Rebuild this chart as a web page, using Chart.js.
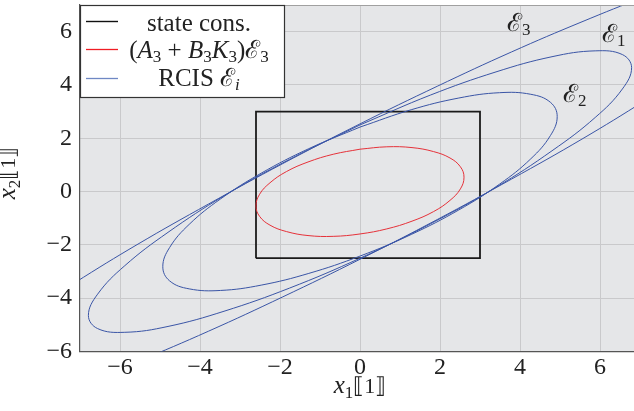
<!DOCTYPE html>
<html>
<head>
<meta charset="utf-8">
<script src="https://cdn.jsdelivr.net/npm/chart.js@4.4.0/dist/chart.umd.min.js"></script>
<style>
  html, body { margin: 0; padding: 0; background: #fff; }
  #wrap { width: 634px; height: 411px; }
</style>
</head>
<body>
<div id="wrap"><canvas id="rcisChart" width="634" height="411"></canvas></div>
<script>
// axis ticks
const xTicks = [-6, -4, -2, 0, 2, 4, 6];
const yTicks = [-6, -4, -2, 0, 2, 4, 6];

// state constraint box
const boxX = [-2.6, -2.6, 3, 3, -2.6];
const boxY = [-2.5, 3, 3, -2.5, -2.5];

// (A3 + B3K3) E3
const redX = [0, -0.67, -1.3, -1.84, -2.25, -2.51, -2.6, -2.51, -2.25, -1.84, -1.3, -0.67, 0, 0.67, 1.3, 1.84, 2.25, 2.51, 2.6, 2.51, 2.25, 1.84, 1.3, 0.67, 0];
const redY = [1.59, 1.4, 1.11, 0.75, 0.33, -0.1, -0.54, -0.93, -1.26, -1.5, -1.65, -1.68, -1.59, -1.4, -1.11, -0.75, -0.33, 0.1, 0.54, 0.93, 1.26, 1.5, 1.65, 1.68, 1.59];

// RCIS E1
const e1X = [0, -1.76, -3.4, -4.8, -5.88, -6.56, -6.79, -6.56, -5.88, -4.8, -3.4, -1.76, 0, 1.76, 3.4, 4.8, 5.88, 6.56, 6.79, 6.56, 5.88, 4.8, 3.4, 1.76, 0];
const e1Y = [2.5, 1.21, -0.16, -1.53, -2.78, -3.85, -4.65, -5.14, -5.28, -5.06, -4.49, -3.62, -2.5, -1.21, 0.16, 1.53, 2.78, 3.85, 4.65, 5.14, 5.28, 5.06, 4.49, 3.62, 2.5];

// RCIS E2
const e2X = [0, -1.28, -2.47, -3.49, -4.27, -4.76, -4.93, -4.76, -4.27, -3.49, -2.47, -1.28, 0, 1.28, 2.47, 3.49, 4.27, 4.76, 4.93, 4.76, 4.27, 3.49, 2.47, 1.28, 0];
const e2Y = [2.42, 1.61, 0.69, -0.28, -1.23, -2.1, -2.82, -3.35, -3.65, -3.71, -3.51, -3.07, -2.42, -1.61, -0.69, 0.28, 1.23, 2.1, 2.82, 3.35, 3.65, 3.71, 3.51, 3.07, 2.42];

// RCIS E3 (only its two long sides are inside the window)
const e3UpperX = [8.5, 7.13, 5.55, 3.79, 1.93, 0, -1.93, -3.79, -5.55, -7.13, -8.5];
const e3UpperY = [8.02, 7.31, 6.37, 5.24, 3.95, 2.54, 1.05, -0.47, -1.97, -3.42, -4.76];
const e3LowerX = [-8.5, -7.13, -5.55, -3.79, -1.93, 0, 1.93, 3.79, 5.55, 7.13, 8.5];
const e3LowerY = [-8.02, -7.31, -6.37, -5.24, -3.95, -2.54, -1.05, 0.47, 1.97, 3.42, 4.76];

const BLUE = '#3a55a6';
const RED = '#e5323a';
const SERIF = '"Liberation Serif", "DejaVu Serif", serif';

const pts = (xs, ys) => xs.map((x, i) => ({ x: x, y: ys[i] }));

function curve(xs, ys, color, order) {
  return {
    data: pts(xs, ys),
    showLine: true,
    borderColor: color,
    borderWidth: 1,
    pointRadius: 0,
    tension: 0.4,
    fill: false,
    order: order
  };
}

// draw a row of text pieces [text, font, dy]
function drawRuns(ctx, runs, x, y, center) {
  let w = 0;
  runs.forEach(r => { ctx.font = r[1]; w += ctx.measureText(r[0]).width; });
  let cx = center ? x - w / 2 : x;
  runs.forEach(r => {
    ctx.font = r[1];
    ctx.fillText(r[0], cx, y + (r[2] || 0));
    cx += ctx.measureText(r[0]).width;
  });
}

const N = '25px ' + SERIF;
const I = 'italic 25px ' + SERIF;
const S = '17px ' + SERIF;
const SI = 'italic 17px ' + SERIF;
const B = '22px ' + SERIF;

const plotBackground = {
  id: 'plotBackground',
  beforeDraw(chart) {
    const { ctx, chartArea: a } = chart;
    ctx.save();
    ctx.fillStyle = '#e5e6e8';
    ctx.fillRect(a.left, a.top, a.right - a.left, a.bottom - a.top);
    ctx.restore();
  }
};

const annotations = {
  id: 'annotations',
  afterDraw(chart) {
    const { ctx, chartArea: a } = chart;
    ctx.save();
    // top frame
    ctx.strokeStyle = '#a0a0a0';
    ctx.lineWidth = 1;
    ctx.beginPath();
    ctx.moveTo(a.left, a.top + 0.5);
    ctx.lineTo(a.right, a.top + 0.5);
    ctx.stroke();

    ctx.fillStyle = '#222';
    ctx.textBaseline = 'alphabetic';

    // ellipse names
    drawRuns(ctx, [['\u2130', N], ['3', S, 4]], 507, 31, false);
    drawRuns(ctx, [['\u2130', N], ['1', S, 4]], 602, 42, false);
    drawRuns(ctx, [['\u2130', N], ['2', S, 4]], 563, 102, false);

    // axis titles
    drawRuns(ctx, [['x', I], ['1', S, 5], ['\u27E6', B], ['1', B], ['\u27E7', B]], 360, 393, true);
    ctx.save();
    ctx.translate(15, 173);
    ctx.rotate(-Math.PI / 2);
    drawRuns(ctx, [['x', I], ['2', S, 5], ['\u27E6', B], ['1', B], ['\u27E7', B]], 0, 0, true);
    ctx.restore();

    // legend
    const lx = a.left, ly = a.top, lw = 204, lh = 92;
    ctx.fillStyle = '#fff';
    ctx.fillRect(lx, ly, lw, lh);
    ctx.strokeStyle = '#333';
    ctx.lineWidth = 1.2;
    ctx.strokeRect(lx + 0.5, ly + 0.5, lw, lh);
    const rows = [
      { color: '#111', w: 1.4, y: 16, base: 26, runs: [['state cons.', N]] },
      { color: '#f01c24', w: 1.3, y: 44, base: 53, runs: [['(', N], ['A', I], ['3', S, 4], [' + ', N], ['B', I], ['3', S, 4], ['K', I], ['3', S, 4], [')', N], ['\u2130', N], ['3', S, 4]] },
      { color: '#6f88c4', w: 1.3, y: 73, base: 81, runs: [['RCIS ', N], ['\u2130', N], ['i', SI, 4]] }
    ];
    rows.forEach(r => {
      ctx.strokeStyle = r.color;
      ctx.lineWidth = r.w;
      ctx.beginPath();
      ctx.moveTo(lx + 6, ly + r.y + 0.5);
      ctx.lineTo(lx + 38, ly + r.y + 0.5);
      ctx.stroke();
      ctx.fillStyle = '#222';
      drawRuns(ctx, r.runs, 199, ly + r.base, true);
    });
    ctx.restore();
  }
};

const tickLabel = v => (v < 0 ? '\u2212' + Math.abs(v) : String(v));

new Chart(document.getElementById('rcisChart'), {
  type: 'scatter',
  data: {
    datasets: [
      curve(e3UpperX, e3UpperY, BLUE, 1),
      curve(e3LowerX, e3LowerY, BLUE, 1),
      curve(e1X, e1Y, BLUE, 1),
      curve(e2X, e2Y, BLUE, 1),
      curve(redX, redY, RED, 2),
      {
        data: pts(boxX, boxY),
        showLine: true,
        borderColor: '#1a1a1a',
        borderWidth: 1.8,
        pointRadius: 0,
        tension: 0,
        fill: { value: Math.min(...boxY) },
        backgroundColor: 'rgba(255,255,255,0.82)',
        order: 3
      }
    ]
  },
  options: {
    responsive: false,
    devicePixelRatio: 1,
    animation: false,
    events: [],
    layout: { padding: { top: 5, right: 0, left: 0, bottom: 0 } },
    elements: { line: { capBezierPoints: false } },
    plugins: {
      legend: { display: false },
      tooltip: { enabled: false }
    },
    scales: {
      x: {
        type: 'linear',
        min: -7,
        max: 6.85,
        afterBuildTicks: s => { s.ticks = xTicks.map(v => ({ value: v })); },
        afterFit: s => { s.height = 59.5; s.paddingLeft = 0; s.paddingRight = 0; },
        grid: { color: '#c9c9cb', lineWidth: 1, drawTicks: false },
        border: { color: '#555', width: 1.2 },
        ticks: {
          padding: 2,
          color: '#222',
          font: { family: SERIF, size: 24 },
          maxRotation: 0,
          callback: tickLabel
        }
      },
      y: {
        type: 'linear',
        min: -6,
        max: 7,
        afterBuildTicks: s => { s.ticks = yTicks.map(v => ({ value: v })); },
        afterFit: s => { s.width = 80; s.paddingTop = 0; s.paddingBottom = 0; },
        grid: { color: '#c9c9cb', lineWidth: 1, drawTicks: false },
        border: { color: '#555', width: 1.2 },
        ticks: {
          padding: 8,
          color: '#222',
          font: { family: SERIF, size: 24 },
          callback: tickLabel
        }
      }
    }
  },
  plugins: [plotBackground, annotations]
});
</script>
</body>
</html>
